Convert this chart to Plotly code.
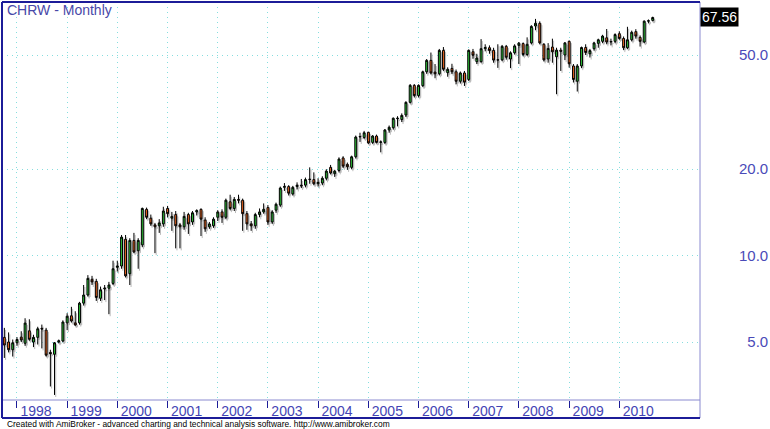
import numpy as np
import pandas as pd
import plotly.graph_objects as go

# monthly bars, Oct 1997 .. Sep 2010
months = pd.date_range("1997-10-01", "2010-09-01", freq="MS")

opens = [
    5.19, 5.0, 4.7,
    4.97, 5.2, 4.95, 5.47, 5.0, 5.19, 5.58, 5.5, 4.6, 4.53, 5.0, 5.04,
    5.83, 6.17, 5.83, 5.83, 6.83, 7.29, 8.27, 8.13, 7.1, 7.65, 7.7, 8.0,
    9.1, 9.2, 11.4, 8.65, 11.3, 10.4, 10.9, 14.5, 13.5, 12.8, 12.7, 12.9,
    14.6, 13.5, 13.9, 12.8, 12.6, 13.9, 13.1, 14.2, 14.5, 13.3, 12.6, 12.7,
    13.6, 14.2, 13.6, 15.4, 14.6, 15.7, 15.6, 14.0, 12.9, 12.7, 13.9, 14.2,
    14.7, 13.1, 14.4, 15.0, 17.3, 17.4, 16.4, 17.4, 17.6, 17.6, 18.4, 18.4,
    17.8, 17.9, 18.6, 20.3, 19.3, 19.8, 21.9, 20.8, 20.3, 22.1, 25.9, 25.8,
    26.9, 24.8, 26.1, 24.8, 24.8, 27.4, 27.9, 30.0, 29.8, 30.9, 34.2, 39.2,
    36.1, 39.1, 43.7, 47.9, 43.6, 43.0, 51.9, 43.4, 44.9, 43.7, 40.5, 43.3,
    41.1, 51.3, 47.4, 47.4, 52.6, 53.0, 51.9, 48.0, 48.1, 53.6, 48.4, 50.9,
    54.0, 54.8, 50.2, 55.1, 63.1, 64.5, 54.5, 48.4, 53.3, 49.3, 52.0, 50.0,
    55.8, 45.8, 40.5, 45.8, 53.1, 50.5, 52.6, 54.9, 55.8, 57.4, 55.5, 55.8,
    59.3, 57.1, 53.0, 56.5, 60.3, 57.6, 55.5, 65.6, 66.0,
]
highs = [
    5.6, 5.4, 5.1,
    5.2, 5.45, 6.05, 6.0, 5.3, 5.65, 5.75, 5.6, 4.7, 5.0, 5.1, 5.95,
    6.3, 6.63, 6.4, 6.9, 7.9, 8.55, 8.5, 8.3, 7.8, 7.9, 8.1, 9.6,
    9.6, 11.8, 11.8, 11.5, 12.0, 11.5, 14.7, 14.7, 13.9, 13.0, 13.4, 14.8,
    14.9, 14.2, 14.3, 13.0, 14.2, 14.1, 14.3, 14.5, 14.6, 13.6, 13.1, 13.6,
    14.4, 14.5, 15.8, 16.3, 16.0, 16.3, 15.8, 14.3, 13.2, 14.1, 14.6, 15.2,
    15.0, 14.4, 15.3, 17.4, 17.9, 17.6, 17.5, 18.0, 18.5, 18.7, 20.3, 19.5,
    18.6, 18.9, 20.0, 20.7, 19.9, 22.0, 22.2, 21.1, 22.3, 26.2, 26.8, 27.2,
    27.0, 26.3, 26.4, 25.2, 27.6, 28.4, 30.3, 30.6, 31.3, 34.5, 39.6, 39.6,
    39.5, 44.1, 48.4, 51.0, 46.5, 52.5, 53.3, 45.3, 46.6, 44.5, 43.8, 44.0,
    52.3, 52.5, 50.5, 56.8, 54.5, 54.0, 53.0, 54.5, 54.2, 54.2, 51.5, 54.5,
    55.5, 55.3, 57.6, 63.5, 66.8, 65.5, 55.0, 55.0, 57.0, 53.0, 53.0, 55.5,
    56.2, 46.5, 46.5, 53.5, 54.5, 52.5, 55.6, 57.0, 58.8, 61.6, 57.0, 59.5,
    60.5, 58.0, 62.7, 60.8, 61.5, 58.5, 66.0, 66.5, 68.0,
]
lows = [
    4.4, 4.6, 4.45,
    4.85, 5.0, 4.85, 5.05, 4.8, 4.9, 4.75, 4.45, 3.5, 3.27, 4.95, 5.0,
    5.5, 5.85, 5.7, 5.75, 6.7, 7.2, 7.9, 6.95, 6.95, 7.0, 6.25, 7.9,
    8.8, 9.0, 8.4, 7.9, 10.2, 9.0, 10.7, 13.4, 12.7, 10.2, 12.0, 12.6,
    13.6, 12.2, 10.6, 10.6, 12.3, 11.9, 12.8, 13.8, 11.7, 12.1, 12.4, 12.5,
    13.2, 13.0, 13.4, 14.4, 14.3, 15.2, 12.2, 12.3, 12.2, 12.4, 13.6, 14.0,
    12.8, 12.9, 14.1, 14.8, 16.8, 16.2, 16.2, 17.0, 17.2, 17.3, 17.8, 17.6,
    17.4, 17.6, 18.3, 19.2, 18.8, 19.5, 20.2, 19.9, 20.0, 21.8, 24.9, 25.5,
    24.5, 24.5, 24.6, 22.9, 24.5, 26.8, 27.5, 28.2, 29.2, 30.4, 33.9, 35.6,
    35.6, 38.7, 43.0, 42.8, 41.5, 42.5, 44.0, 42.0, 42.9, 39.5, 39.8, 39.0,
    40.6, 48.5, 46.5, 47.0, 51.5, 50.5, 47.0, 45.1, 47.6, 48.2, 45.0, 50.2,
    46.5, 49.5, 49.6, 54.5, 61.0, 54.5, 47.5, 47.0, 47.0, 36.5, 44.0, 48.0,
    45.2, 40.1, 37.3, 45.0, 50.0, 49.0, 51.8, 53.0, 55.0, 54.5, 54.0, 55.0,
    56.5, 52.0, 52.5, 55.8, 57.0, 53.5, 55.0, 64.5, 65.5,
]
closes = [
    4.88, 4.7, 4.97,
    5.1, 5.08, 5.82, 5.11, 5.19, 5.56, 5.55, 4.5, 4.55, 4.97, 5.05, 5.87,
    6.15, 5.92, 5.73, 6.83, 7.29, 8.33, 8.1, 7.15, 7.6, 7.7, 7.9, 9.0,
    9.2, 11.6, 8.5, 11.3, 10.3, 11.3, 14.6, 13.6, 12.9, 12.6, 13.0, 14.3,
    14.0, 13.7, 12.7, 12.6, 13.7, 12.9, 14.1, 14.35, 13.4, 12.4, 12.9, 13.4,
    14.2, 13.6, 15.6, 14.6, 15.7, 15.6, 14.0, 12.9, 12.7, 13.9, 14.2, 14.5,
    13.1, 14.2, 15.1, 17.2, 17.4, 16.5, 17.3, 17.6, 17.5, 18.4, 18.45, 17.8,
    18.0, 18.6, 19.7, 19.4, 19.7, 21.7, 20.5, 20.4, 22.1, 25.9, 26.0, 26.8,
    24.7, 26.1, 24.8, 24.9, 27.4, 28.0, 30.1, 30.1, 30.8, 34.2, 39.2, 36.1,
    39.2, 43.7, 47.9, 43.3, 43.0, 51.9, 44.6, 44.6, 43.7, 40.5, 43.3, 40.2,
    51.9, 49.9, 48.8, 52.6, 53.1, 51.8, 48.0, 48.1, 53.6, 49.1, 50.9, 53.8,
    55.0, 50.2, 54.5, 62.9, 64.5, 55.1, 48.1, 52.7, 51.3, 52.0, 51.5, 55.1,
    46.6, 41.1, 45.8, 53.1, 51.0, 51.8, 55.1, 56.5, 58.2, 55.5, 55.7, 58.9,
    57.1, 53.0, 56.5, 60.0, 58.2, 55.8, 65.6, 65.8, 67.56,
]

year_ticks = pd.date_range("1998-01-01", "2010-01-01", freq="YS")
price_ticks = [5, 10, 20, 50]
price_labels = ["\u20075.0", "10.0", "20.0", "50.0"]

navy = "#1c1c98"
lav = "#8a8ad0"
grid = "#86dede"

x_range = [pd.Timestamp("1997-09-14"), pd.Timestamp("2011-08-11")]
y_range = [np.log10(3.14), np.log10(76.5)]

fig = go.Figure()

# grey drop shadow on the base (hidden) axes, nudged right/down by shifting the ranges
fig.add_trace(go.Candlestick(
    x=months, open=opens, high=highs, low=lows, close=closes,
    increasing=dict(fillcolor="#bbbbbb", line=dict(color="#bbbbbb", width=1)),
    decreasing=dict(fillcolor="#bbbbbb", line=dict(color="#bbbbbb", width=1)),
    whiskerwidth=0, showlegend=False, hoverinfo="skip",
))
# the real bars live on the overlaid axes, which carry the ticks and grid
fig.add_trace(go.Candlestick(
    x=months, open=opens, high=highs, low=lows, close=closes,
    xaxis="x2", yaxis="y2",
    increasing=dict(fillcolor="#2fc83a", line=dict(color="black", width=1)),
    decreasing=dict(fillcolor="#f66a22", line=dict(color="black", width=1)),
    whiskerwidth=0,
    showlegend=False,
    hoverinfo="x+y",
))

fig.update_layout(
    width=770, height=429,
    margin=dict(l=2, r=70, t=2, b=29, autoexpand=False),
    paper_bgcolor="white", plot_bgcolor="white",
    font=dict(family="Arial, Liberation Sans, sans-serif"),
    showlegend=False,
    xaxis=dict(
        type="date", automargin=False,
        range=[x_range[0] - pd.Timedelta(days=9), x_range[1] - pd.Timedelta(days=9)],
        rangeslider=dict(visible=False),
        showticklabels=False, ticks="", showgrid=False,
        showline=False, zeroline=False,
    ),
    yaxis=dict(
        type="log", automargin=False,
        range=[y_range[0] + 0.007, y_range[1] + 0.007],
        showticklabels=False, ticks="", showgrid=False,
        showline=False, zeroline=False,
    ),
    xaxis2=dict(
        type="date", overlaying="x", side="bottom", automargin=False,
        range=x_range,
        rangeslider=dict(visible=False),
        tickvals=year_ticks, tickformat="%Y",
        ticks="outside", ticklen=7, tickcolor=navy, tickwidth=1,
        ticklabelshift=19, ticklabelstandoff=-9,
        tickfont=dict(size=14, color="#4444b4"),
        showgrid=True, gridcolor=grid, griddash="1px,4px", gridwidth=1,
        showline=False, zeroline=False,
    ),
    yaxis2=dict(
        type="log", overlaying="y", side="right", automargin=False,
        range=y_range,
        tickvals=price_ticks, ticktext=price_labels,
        ticks="", ticklabelstandoff=38,
        tickfont=dict(size=15, color="#4a4ab8"),
        showgrid=True, gridcolor=grid, griddash="1px,4px", gridwidth=1,
        showline=False, zeroline=False,
    ),
)

band = -18 / 398
fig.add_shape(type="rect", xref="paper", yref="paper", x0=0, x1=1, y0=0, y1=1,
              line=dict(color=lav, width=1))
fig.add_shape(type="line", xref="paper", yref="paper", x0=1, x1=1, y0=band, y1=0,
              line=dict(color=lav, width=1))
fig.add_shape(type="line", xref="paper", yref="paper", x0=0, x1=1, y0=band, y1=band,
              line=dict(color=navy, width=2))
fig.add_shape(type="line", xref="paper", yref="paper", x0=0, x1=1, y0=1, y1=1,
              line=dict(color=navy, width=2))
fig.add_shape(type="line", xref="paper", yref="paper", x0=0, x1=0, y0=band, y1=1,
              line=dict(color=navy, width=2))

fig.add_annotation(text="CHRW - Monthly", xref="paper", yref="paper",
                   x=0.004, y=1.004, xanchor="left", yanchor="top", showarrow=False,
                   font=dict(size=14, color="#4848a8"))
fig.add_annotation(text=f"{closes[-1]:.2f}", xref="paper", yref="y2",
                   x=1, y=np.log10(closes[-1]), xanchor="left", yanchor="middle",
                   showarrow=False, bgcolor="black", borderpad=1,
                   font=dict(size=14, color="white"))
fig.add_annotation(text="Created with AmiBroker - advanced charting and technical analysis software. http://www.amibroker.com",
                   xref="paper", yref="paper", x=0.004, y=band + 0.002,
                   xanchor="left", yanchor="top", showarrow=False,
                   font=dict(size=8.4, color="black"))

# page body has a default margin; drop it so the figure sits at the window corner
fig.write_html("out.html", config={"displayModeBar": False},
               post_script="document.body.style.margin='0';")
